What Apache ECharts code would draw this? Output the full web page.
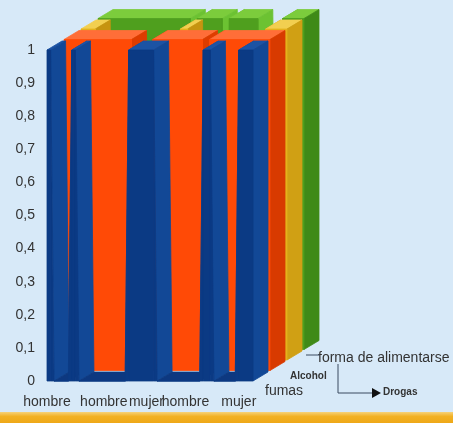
<!DOCTYPE html>
<html>
<head>
<meta charset="utf-8">
<script src="https://cdn.jsdelivr.net/npm/echarts/dist/echarts.min.js"></script>
<style>
  html, body { margin: 0; padding: 0; background: #d7e9f8; }
  #chart { width: 453px; height: 423px; }
</style>
</head>
<body>
<div id="chart"></div>
<script>
// Respondents along the category axis (59 answers)
const respondents = [
  'hombre','hombre','mujer','hombre','mujer','hombre','hombre','mujer','hombre','mujer',
  'mujer','hombre','hombre','mujer','hombre','mujer','hombre','mujer','hombre','hombre',
  'mujer','hombre','mujer','mujer','hombre','hombre','mujer','hombre','mujer','hombre',
  'mujer','hombre','mujer','hombre','mujer','mujer','hombre','hombre','mujer','hombre',
  'hombre','mujer','mujer','hombre','mujer','hombre','hombre','mujer','hombre','mujer',
  'hombre','mujer','hombre','mujer','mujer','hombre','mujer','hombre','mujer'
];
// Category positions whose label is printed
const labeledIndices = [0, 16, 28, 39, 54];

// Answers per habit (1 = sí, 0 = no)
const fumas = [
  1,1,0,0,0,0,0,1,1,0, 0,0,0,0,0,0,0,0,0,0,
  0,0,0,1,1,1,1,1,1,1, 1,0,0,0,0,0,0,0,0,0,
  0,0,0,0,1,1,1,0,0,0, 0,0,0,0,1,1,1,1,1
];
const alcohol = [
  1,1,1,1,1,1,1,1,1,1, 1,1,1,1,1,1,1,1,1,1,
  0,0,0,0,0,1,1,1,1,1, 1,1,1,1,1,1,1,1,1,1,
  0,1,1,1,1,1,1,1,1,1, 1,1,1,1,1,1,1,1,1
];
const alimentacion = [
  1,1,1,1,1,0,0,0,0,0, 0,0,0,0,0,0,0,0,0,0,
  0,0,0,0,0,0,0,0,1,1, 1,0,0,0,0,0,0,0,0,0,
  0,0,0,0,0,0,0,0,0,0, 0,0,1,1,1,1,1,1,1
];
const drogas = [
  1,1,1,1,1,1,1,1,1,1, 1,1,1,1,1,1,1,1,1,1,
  1,1,1,1,1,1,1,0,1,1, 1,1,1,1,1,1,0,1,1,1,
  1,1,1,1,1,1,0,0,0,0, 0,0,1,1,1,1,1,1,1
];

// Series along the depth axis, front to back
const depthSeries = [
  { name: 'fumas',                values: fumas,        front: '#0b3a84', wall: '#124896', top: '#1c53a4', floor: '#0d3880', cap: '#124896' },
  { name: 'Alcohol',              values: alcohol,      front: '#ff4a06', wall: '#de3c00', top: '#ff6e38', floor: '#e84400', cap: '#d83a00' },
  { name: 'forma de alimentarse', values: alimentacion, front: '#e4b21c', wall: '#c69410', top: '#f2cf50', floor: '#d8a818', cap: '#d0a014' },
  { name: 'Drogas',               values: drogas,       front: '#4f9f1e', wall: '#6cc232', top: '#7ccc3c', floor: '#3f8a18', cap: '#3f8a18' }
];

// Oblique projection of the depth axis
const SLOT_DX = 17, SLOT_DY = -10.5;   // shift between series slots
const DEPTH_DX = 15, DEPTH_DY = -9;    // thickness of each ribbon

function poly(points, fill, z2) {
  return {
    type: 'polygon', z2: z2,
    shape: { points: points },
    style: { fill: fill, stroke: fill, lineWidth: 0.8, lineJoin: 'round' }
  };
}

// Each item draws the ribbon piece that starts at its category:
// a sloped piece to the next answer, or a whole run of equal answers.
function ribbonRenderer(slot, s) {
  const ox = SLOT_DX * slot, oy = SLOT_DY * slot;
  const vals = s.values, n = vals.length;
  const shift = p => [p[0] + ox, p[1] + oy];
  const back = p => [p[0] + DEPTH_DX, p[1] + DEPTH_DY];
  return function (params, api) {
    const i = api.value(0), v0 = api.value(1);
    const pt = (k, v) => shift(api.coord([k, v]));
    const children = [];
    if (i === n - 1) {
      const p = pt(i, v0), b = pt(i, 0);
      children.push(poly([b, p, back(p), back(b)], s.cap, 2));
    }
    if (i < n - 1) {
      const v1 = vals[i + 1];
      if (v1 !== v0) {
        const p0 = pt(i, v0), p1 = pt(i + 1, v1);
        const b0 = pt(i, 0), b1 = pt(i + 1, 0);
        children.push(poly([p0, p1, back(p1), back(p0)], s.wall, v1 > v0 ? 1 : 2));
        children.push(poly([b0, p0, p1, b1], s.front, 3));
      } else if (i === 0 || vals[i - 1] !== v0) {
        let e = i + 1;
        while (e < n - 1 && vals[e + 1] === v0) e++;
        const p0 = pt(i, v0), p1 = pt(e, v0);
        const b0 = pt(i, 0), b1 = pt(e, 0);
        children.push(poly([p0, p1, back(p1), back(p0)], v0 > 0 ? s.top : s.floor, 2));
        children.push(poly([b0, p0, p1, b1], s.front, 3));
      }
    }
    return { type: 'group', children: children };
  };
}

const series = depthSeries.map((s, slot) => ({
  name: s.name,
  type: 'custom',
  z: 10 - slot,
  clip: false,
  silent: true,
  renderItem: ribbonRenderer(slot, s),
  encode: { x: 0, y: 1 },
  data: s.values.map((v, i) => [i, v])
})).reverse();

const textColor = '#333';
const chart = echarts.init(document.getElementById('chart'));
chart.setOption({
  backgroundColor: '#d7e9f8',
  animation: false,
  grid: { left: 47, right: 200, top: 50, bottom: 42 },
  xAxis: {
    type: 'category',
    data: respondents,
    boundaryGap: false,
    axisLine: { show: false },
    axisTick: { show: false },
    splitLine: { show: false },
    axisLabel: {
      interval: idx => labeledIndices.includes(idx),
      fontFamily: 'Arial, Liberation Sans, sans-serif',
      fontSize: 14,
      color: textColor,
      margin: 14
    }
  },
  yAxis: {
    type: 'value',
    min: 0, max: 1, interval: 0.1,
    axisLine: { show: false },
    axisTick: { show: false },
    splitLine: { show: false },
    axisLabel: {
      fontFamily: 'Arial, Liberation Sans, sans-serif',
      fontSize: 14,
      color: textColor,
      margin: 12,
      formatter: v => String(+v.toFixed(1)).replace('.', ',')
    }
  },
  series: series,
  graphic: [
    {
      type: 'rect', left: 0, top: 412, silent: true,
      shape: { width: 453, height: 11 },
      style: {
        fill: new echarts.graphic.LinearGradient(0, 0, 0, 1, [
          { offset: 0, color: '#f6d27a' },
          { offset: 0.4, color: '#f2b124' },
          { offset: 1, color: '#eea818' }
        ])
      }
    },
    { type: 'text', left: 265, top: 384, style: { text: 'fumas', font: '14px Arial, Liberation Sans, sans-serif', fill: textColor } },
    { type: 'text', left: 290, top: 371, style: { text: 'Alcohol', font: 'bold 10px Arial, Liberation Sans, sans-serif', fill: textColor } },
    { type: 'text', left: 318, top: 351, style: { text: 'forma de alimentarse', font: '14px Arial, Liberation Sans, sans-serif', fill: textColor } },
    { type: 'text', left: 383, top: 387, style: { text: 'Drogas', font: 'bold 10px Arial, Liberation Sans, sans-serif', fill: textColor } },
    { type: 'polyline', shape: { points: [[306, 355], [320, 355]] }, style: { stroke: '#3a4a60', lineWidth: 1 } },
    { type: 'polyline', shape: { points: [[338, 364], [338, 393], [373, 393]] }, style: { stroke: '#3a4a60', lineWidth: 1, fill: null } },
    { type: 'polygon', shape: { points: [[372, 388], [381, 393], [372, 398]] }, style: { fill: '#111' } }
  ]
});
</script>
</body>
</html>
